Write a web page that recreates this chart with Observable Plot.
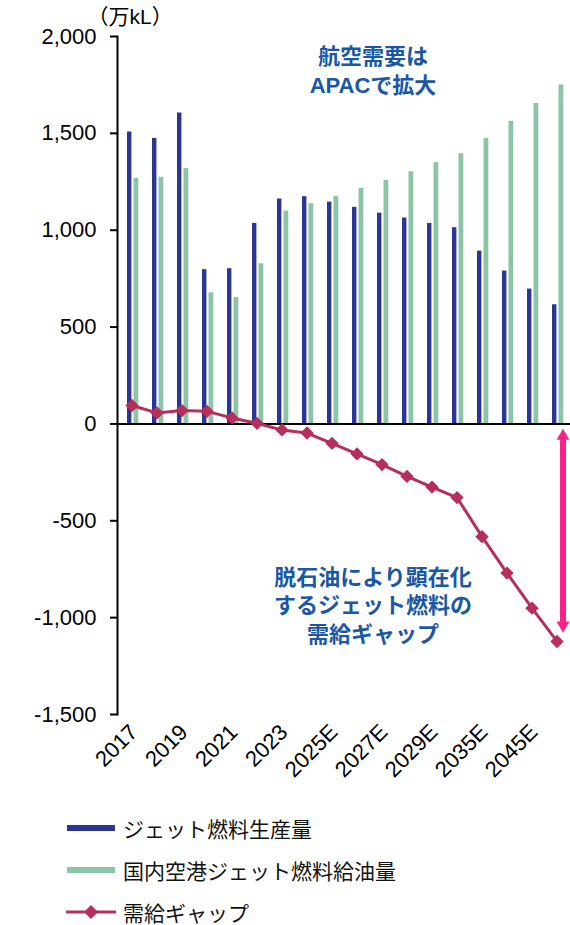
<!DOCTYPE html>
<html><head><meta charset="utf-8">
<script src="https://cdn.jsdelivr.net/npm/d3@7"></script>
<script src="https://cdn.jsdelivr.net/npm/@observablehq/plot@0.6"></script>
<style>
html,body{margin:0;padding:0;background:#fff;font-family:Arial,"Liberation Sans","Noto Sans CJK JP",sans-serif;}
body{position:relative;width:570px;height:925px;overflow:hidden;}
#chart{position:absolute;left:0;top:0;width:570px;height:812px;}
#legend{position:absolute;left:0;top:812px;width:570px;height:110px;}
.row{position:absolute;left:0;width:570px;height:22px;font-size:21px;color:#111;font-family:"Noto Sans CJK JP",sans-serif;}
.sw{position:absolute;left:67px;width:48px;height:6px;top:8px;}
.lbl{position:absolute;left:123px;top:0;height:22px;line-height:22px;white-space:nowrap;}
</style></head><body>
<div id="chart"></div>
<div id="legend"></div>
<script>
// ---- data ----
const years = ["2017","2018","2019","2020","2021","2022","2023","2024","2025E","2026E","2027E","2028E","2029E","2030E","2035E","2040E","2045E","2050E"];
const labeledYears = ["2017","2019","2021","2023","2025E","2027E","2029E","2035E","2045E"];
const production = [1507,1474,1605,796,801,1035,1161,1173,1145,1118,1088,1063,1035,1013,892,789,696,615];
const airportDemand = [1268,1273,1318,677,653,827,1099,1137,1175,1216,1257,1302,1349,1395,1474,1562,1654,1750];
const supplyGap = [95,57,69,65,31,3,-31,-47,-100,-155,-210,-271,-326,-380,-582,-770,-951,-1123];
const yTicks = [2000,1500,1000,500,0,-500,-1000,-1500];
const seriesNames = ["ジェット燃料生産量","国内空港ジェット燃料給油量","需給ギャップ"];
const unitLabel = "（万kL）";
const noteTexts = ["航空需要は\nAPACで拡大","脱石油により顕在化\nするジェット燃料の\n需給ギャップ"];
const noteYears = ["2027E","2027E"];
const noteValues = [1831,-931];

// ---- styles ----
const BLUE = "#2B3593", GREEN = "#8BC5A6", RED = "#B52E5C", PINK = "#FF1F8C", NOTE = "#1A57A6";
const FONT = 'Arial,"Liberation Sans","Noto Sans CJK JP",sans-serif';
const fmt = d3.formatLocale({decimal: ".", thousands: ",", grouping: [3], currency: ["", ""], minus: "-"}).format(",");

const rows = years.map((y,i)=>({year:y, production:production[i], demand:airportDemand[i], gap:supplyGap[i]}));
const last = rows[rows.length-1];
const notes = noteTexts.map((t,i)=>({text:t, year:noteYears[i], value:noteValues[i]}));

const chart = Plot.plot({
  width: 570, height: 812,
  marginLeft: 117, marginRight: 0, marginTop: 36, marginBottom: 98,
  style: {fontFamily: FONT, fontSize: "22px", color: "#000", background: "#fff", overflow: "visible"},
  x: {type: "band", domain: years, padding: 0},
  y: {domain: [-1500, 2000]},
  marks: [
    Plot.barY(rows, {x: "year", y: "production", fill: BLUE, insetLeft: 8, insetRight: 12.6}),
    Plot.barY(rows, {x: "year", y: "demand", fill: GREEN, insetLeft: 14.5, insetRight: 5.7}),
    Plot.ruleY([0], {stroke: "#000", strokeWidth: 2}),
    Plot.frame({anchor: "left", stroke: "#000", strokeWidth: 2}),
    Plot.axisY({ticks: yTicks, tickSize: 7, tickPadding: 14, tickFormat: fmt, fontSize: 22, strokeWidth: 2, label: null}),
    Plot.axisX({ticks: labeledYears, tickSize: 0, tickRotate: -45, tickPadding: 14, dx: 2, fontSize: 22, label: null}),
    Plot.line(rows, {x: "year", y: "gap", stroke: RED, strokeWidth: 3}),
    Plot.dot(rows, {x: "year", y: "gap", symbol: "diamond2", r: 6, fill: RED}),
    Plot.ruleX([last], {x: "year", y1: 0, y2: "gap", dx: 6, stroke: PINK, strokeWidth: 6, insetTop: 14, insetBottom: 19}),
    Plot.dot([last], {x: "year", y: 0, dx: 6, dy: 12.2, symbol: "triangle", r: 4.8, fill: PINK}),
    Plot.dot([last], {x: "year", y: "gap", dx: 6, dy: -16.2, symbol: "triangle", r: 4.8, fill: PINK, rotate: 180}),
    Plot.text(notes, {x: "year", y: "value", text: "text", dx: -9, fill: NOTE, fontWeight: "bold", fontSize: 22, lineHeight: 1.3}),
    Plot.text([unitLabel], {frameAnchor: "top-left", dx: -30, dy: -13, textAnchor: "start", lineAnchor: "bottom", fontSize: 21, fill: "#000"})
  ]
});
document.getElementById("chart").appendChild(chart);

// ---- legend ----
const legend = document.getElementById("legend");
const colors = [BLUE, GREEN, RED];
seriesNames.forEach((name,i)=>{
  const row = document.createElement("div");
  row.className = "row";
  row.style.top = (i*42 + 5) + "px";
  if (i < 2) {
    const sw = document.createElement("div");
    sw.className = "sw"; sw.style.background = colors[i];
    row.appendChild(sw);
  } else {
    const ns = "http://www.w3.org/2000/svg";
    const s = document.createElementNS(ns, "svg");
    s.setAttribute("width", 60); s.setAttribute("height", 22);
    s.style.position = "absolute"; s.style.left = "62px"; s.style.top = "0px";
    const l = document.createElementNS(ns, "line");
    l.setAttribute("x1", 4); l.setAttribute("x2", 54); l.setAttribute("y1", 11); l.setAttribute("y2", 11);
    l.setAttribute("stroke", RED); l.setAttribute("stroke-width", 3);
    const p = document.createElementNS(ns, "path");
    p.setAttribute("d", "M29,4L36,11L29,18L22,11Z"); p.setAttribute("fill", RED);
    s.appendChild(l); s.appendChild(p);
    row.appendChild(s);
  }
  const t = document.createElement("div");
  t.className = "lbl"; t.textContent = name;
  row.appendChild(t);
  legend.appendChild(row);
});
</script>
</body></html>
